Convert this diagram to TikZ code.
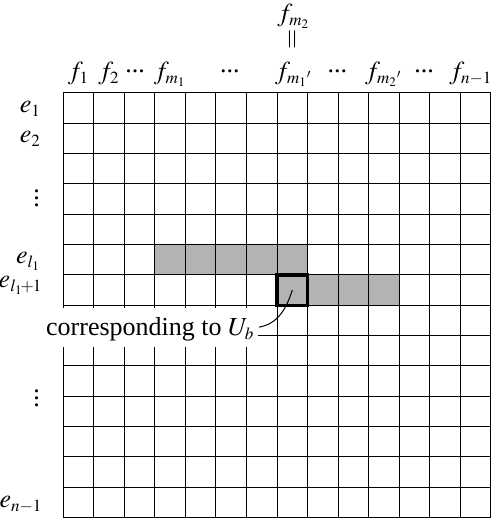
\documentclass[tikz,border=0pt]{standalone}
\usepackage{mathptmx}
\usepackage{fontspec}
\setmainfont{Liberation Serif}
\usepackage{graphicx}
\DeclareMathSizes{13}{13}{8.5}{6.5}
\newcommand{\coldots}{\raisebox{3.5pt}{...}}
\newcommand{\rowdots}{\vbox{\baselineskip=3.5pt\lineskiplimit=-20pt\hbox{.}\hbox{.}\hbox{.}}}
\definecolor{cellgray}{RGB}{179,179,179}
\tikzset{
  rowlab/.style={anchor=base east},
  collab/.style={anchor=base},
  dotlab/.style={anchor=base},
  ubox/.style={draw, line width=1.6pt, minimum width=15.265pt, minimum height=15.165pt, inner sep=0pt, outer sep=0pt},
  note/.style={fill=white, anchor=base east, inner xsep=2pt, inner ysep=3pt, text height=11pt, text depth=2.5pt}
}

\begin{document}
\begin{tikzpicture}[x=15.265pt, y=-15.165pt, line width=0.5pt, font=\fontsize{13}{15.6}\selectfont]
\useasboundingbox (-2.073,-3.066) rectangle (14.009,14.243);
%
% shaded cells
\fill[cellgray] (3,5) rectangle (8,6);
\fill[cellgray] (7,6) rectangle (11,7);
%
% grid
\foreach \i in {0,...,14} {
  \draw (\i,0) -- (\i,14);
  \draw (0,\i) -- (14,\i);
}
%
% column labels
\node (F1) [collab] at (0.5,-0.43) {$f_1$};
\node (F2) [collab] at (1.5,-0.43) {$f_2$};
\node (D1) [collab] at (2.35,-0.43) {\coldots};
\node (Fm1) [collab] at (3.5,-0.43) {$f_{m_1}$};
\node (D2) [collab] at (5.46,-0.43) {\coldots};
\node (Fm1p) [collab] at (7.55,-0.43) {$f_{{m_1}'}$};
\node (D3) [collab] at (8.98,-0.43) {\coldots};
\node (Fm2p) [collab] at (10.5,-0.43) {$f_{{m_2}'}$};
\node (D4) [collab] at (11.82,-0.43) {\coldots};
\node (Fn1) [collab] at (13.35,-0.43) {$f_{n-1}$};
\node (Fm2) [collab] at (7.55,-2.36) {$f_{m_2}$};
\node (Eq) at (7.55,-1.76) {\rotatebox{90}{$=$}};
%
% row labels
\node (E1) [rowlab] at (-0.5,0.63) {$e_1$};
\node (E2) [rowlab] at (-0.5,1.64) {$e_2$};
\node (V1) [dotlab] at (-0.87,3.74) {\rowdots};
\node (El1) [rowlab] at (-0.5,5.62) {$e_{l_1}$};
\node (El2) [rowlab] at (-0.45,6.42) {$e_{l_1\mkern-2mu+\mkern-1mu1}$};
\node (V2) [dotlab] at (-0.87,10.32) {\rowdots};
\node (En1) [rowlab] at (-0.45,13.66) {$e_{n-1}$};
%
% the block and its note
\node (Ub) [ubox] at (7.5,6.5) {};
\node (Txt) [note] at (6.41,8) {corresponding to $U_b$};
\draw (Txt.east) to[out=10,in=-108] (Ub.center);
\end{tikzpicture}
\end{document}
